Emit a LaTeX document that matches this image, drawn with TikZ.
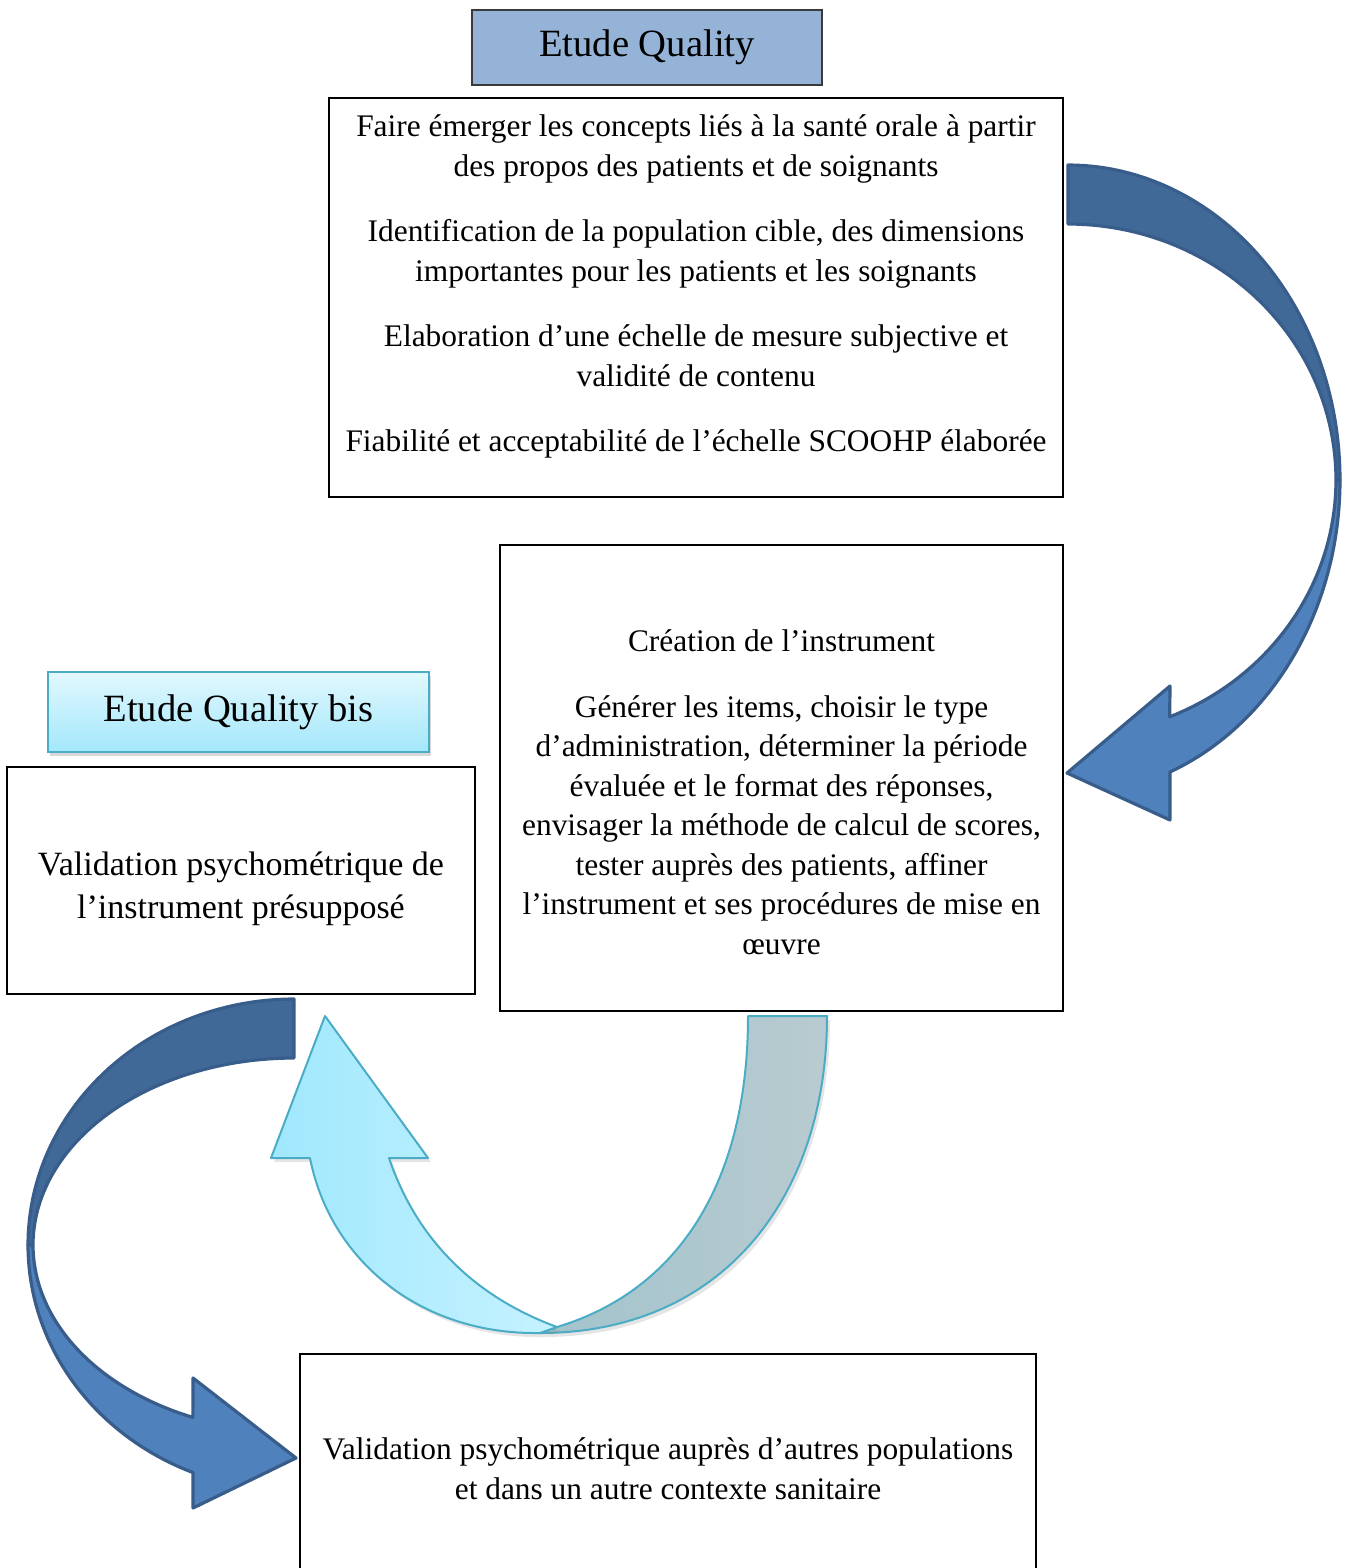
\documentclass[tikz,border=0pt]{standalone}
\usepackage{fontspec}
\setmainfont{Liberation Serif}
\usetikzlibrary{shadows}
\definecolor{titlefill}{HTML}{95B3D7}
\definecolor{titledraw}{HTML}{3A3A3A}
\definecolor{bisTop}{HTML}{E2F8FE}
\definecolor{bisBot}{HTML}{A3E7FB}
\definecolor{bisDraw}{HTML}{4BACC6}
\definecolor{blueDark}{HTML}{416998}
\definecolor{blueLight}{HTML}{4F81BD}
\definecolor{blueEdge}{HTML}{385D8A}
\definecolor{cyanL}{HTML}{A0E8FD}
\definecolor{cyanR}{HTML}{C6F2FF}
\definecolor{grayL}{HTML}{A2C3CC}
\definecolor{grayR}{HTML}{B8CBD0}
\newcommand\mybody{\fontsize{15.7pt}{20pt}\selectfont}
\newcommand\mybodyb{\fontsize{15.7pt}{19.75pt}\selectfont}
\newcommand\mytitle{\fontsize{19.3pt}{23pt}\selectfont}
\newcommand\myvalid{\fontsize{17pt}{21.5pt}\selectfont}
\tikzset{
  box/.style={draw=black, line width=0.8pt, fill=white, inner sep=0pt},
  txt/.style={align=center, inner sep=0pt},
  darkpart/.style={draw=blueEdge, line width=1.6pt, fill=blueDark, line join=round},
  lightpart/.style={draw=blueEdge, line width=1.6pt, fill=blueLight, line join=round},
  cyanpart/.style={draw=bisDraw, line width=1pt, left color=cyanL, right color=cyanR, line join=round,
     drop shadow={opacity=0.2, shadow xshift=1.5pt, shadow yshift=-2pt}},
  graypart/.style={draw=bisDraw, line width=1pt, left color=grayL, right color=grayR, line join=round,
     drop shadow={opacity=0.2, shadow xshift=1.5pt, shadow yshift=-2pt}},
}
\begin{document}
\begin{tikzpicture}[x=0.5pt,y=-0.5pt]
\clip (0,0) rectangle (1353,1568);
\fill[white] (0,0) rectangle (1353,1568);

% boxes
\node[draw=titledraw, line width=0.8pt, fill=titlefill, minimum width=175pt, minimum height=37.5pt, inner sep=0pt, font=\mytitle] (title1) at (647,47.5) {Etude Quality};
\node[box, minimum width=367pt, minimum height=199.5pt] (box1) at (696,297.5) {};
\node[box, minimum width=281.5pt, minimum height=233pt] (box2) at (781.5,778) {};
\node[draw=bisDraw, line width=0.9pt, top color=bisTop, bottom color=bisBot, minimum width=190.5pt, minimum height=40pt, inner sep=0pt, font=\mytitle,
      drop shadow={opacity=0.3, shadow xshift=1pt, shadow yshift=-2pt}] (title2) at (238.5,712) {Etude Quality bis};
\node[box, minimum width=234pt, minimum height=113.5pt] (box3) at (241,880.5) {};
\node[box, minimum width=368pt, minimum height=123pt] (box4) at (668,1477) {};

% texts
\node[txt, font=\mybody] (t1) at (696,286) {Faire émerger les concepts liés à la santé orale à partir\\
des propos des patients et de soignants\\[12.5pt]
Identification de la population cible, des dimensions\\
importantes pour les patients et les soignants\\[12.5pt]
Elaboration d’une échelle de mesure subjective et\\
validité de contenu\\[12.5pt]
Fiabilité et acceptabilité de l’échelle SCOOHP élaborée};
\node[txt, font=\mybodyb] (t2) at (781.5,792) {Création de l’instrument\\[13pt]
Générer les items, choisir le type\\
d’administration, déterminer la période\\
évaluée et le format des réponses,\\
envisager la méthode de calcul de scores,\\
tester auprès des patients, affiner\\
l’instrument et ses procédures de mise en\\
œuvre};
\node[txt, font=\myvalid] (t3) at (241,889) {Validation psychométrique de\\ l’instrument présupposé};
\node[txt, font=\mybody] (t4) at (668,1469) {Validation psychométrique auprès d’autres populations\\ et dans un autre contexte sanitaire};

% right curved arrow (box1 -> box2)
\path[darkpart] (1068,165) -- plot[domain=-90:0, samples=50] ({1068+272*cos(\x)},{480+315*sin(\x)})
  -- plot[domain=0:-90, samples=50] ({1068+268*cos(\x)},{480+256*sin(\x)}) -- cycle;
\path[lightpart] plot[domain=0:68, samples=40] ({1068+272*cos(\x)},{480+315*sin(\x)})
  -- (1170,820) -- (1067,773) -- (1170,686)
  -- plot[domain=67.7:0, samples=40] ({1068+268*cos(\x)},{480+256*sin(\x)}) -- cycle;

% middle U arrow (box2 -> title2)
\coordinate (mj) at (557,1327);
\coordinate (mb) at (540,1333);
\path[graypart] (827,1016) .. controls (827,1200) and (720,1333) .. (mb) -- (mj)
  .. controls (680,1290) and (748,1180) .. (748,1016) -- cycle;
\path[cyanpart] (mj) .. controls (470,1295) and (415,1235) .. (389,1158)
  -- (428,1158) -- (325,1016) -- (271,1158) -- (310,1158)
  .. controls (330,1260) and (420,1335) .. (mb) -- cycle;

% left curved arrow (box3 -> box4)
\path[darkpart] (294,999) -- plot[domain=-90:-180, samples=50] ({294+266*cos(\x)},{1245+246*sin(\x)})
  -- plot[domain=-180:-90, samples=50] ({294+261*cos(\x)},{1245+187*sin(\x)}) -- cycle;
\path[lightpart] plot[domain=180:112.3, samples=40] ({294+266*cos(\x)},{1245+246*sin(\x)})
  -- (193,1508) -- (296,1458) -- (193,1378)
  -- plot[domain=112.8:180, samples=40] ({294+261*cos(\x)},{1245+187*sin(\x)}) -- cycle;
\end{tikzpicture}
\end{document}
